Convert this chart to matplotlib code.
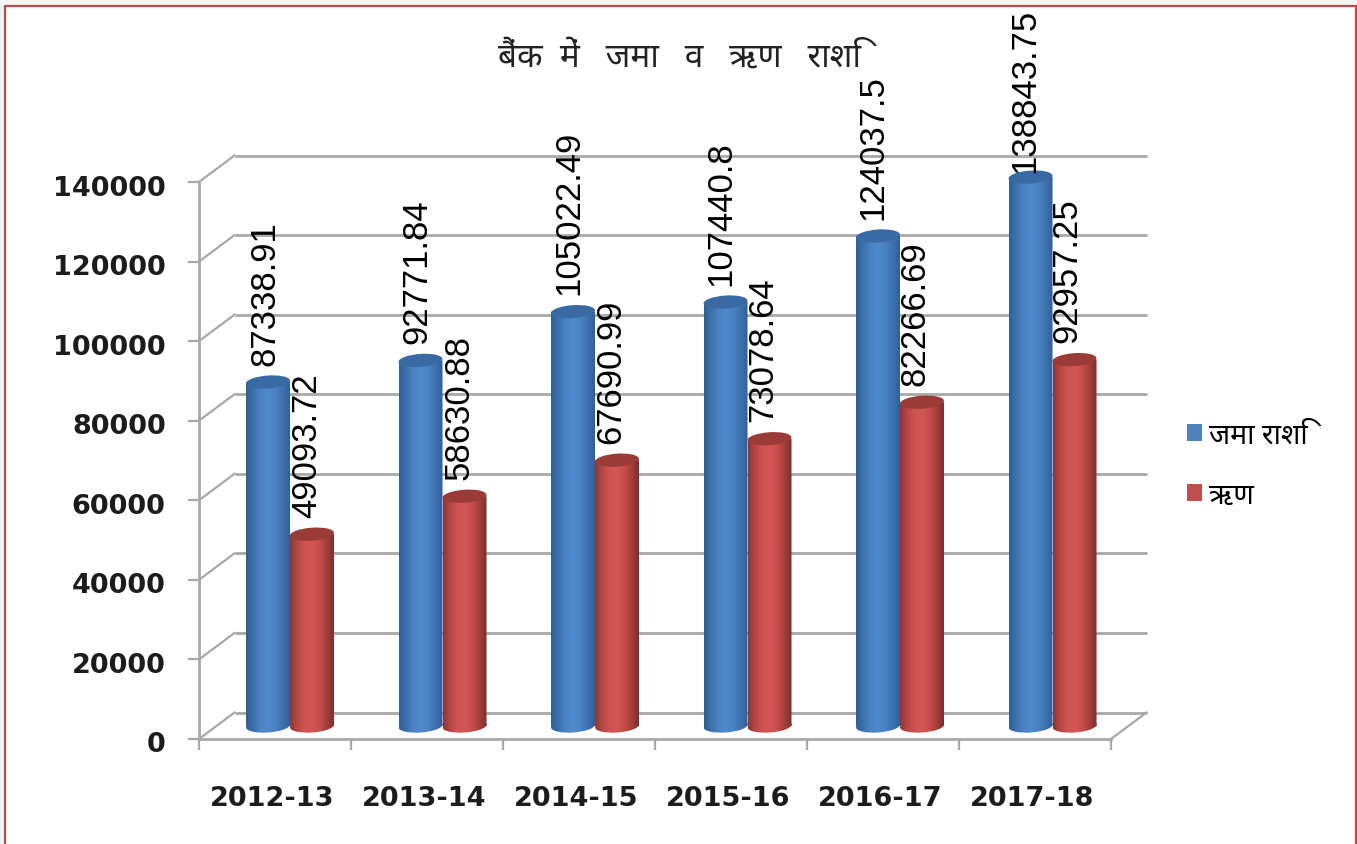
import numpy as np
import matplotlib
matplotlib.use("Agg")
import matplotlib.pyplot as plt
from matplotlib.colors import LinearSegmentedColormap
from matplotlib.patches import Rectangle, Ellipse, Patch
from matplotlib.path import Path
from matplotlib.transforms import Affine2D, IdentityTransform, ScaledTranslation

# ---------- data ----------
title = "बैंक  में   जमा   व   ऋण   राशि"
categories = ["2012-13", "2013-14", "2014-15", "2015-16", "2016-17", "2017-18"]
deposit_name = "जमा राशि"
loan_name = "ऋण"
deposits = [87338.91, 92771.84, 105022.49, 107440.8, 124037.5, 138843.75]
loans = [49093.72, 58630.88, 67690.99, 73078.64, 82266.69, 92957.25]
y_ticks = [0, 20000, 40000, 60000, 80000, 100000, 120000, 140000]

# ---------- styles ----------
W, H = 1357, 845
GRID = "#A8A8A8"
BORDER = "#BE4B48"
blue_cmap = LinearSegmentedColormap.from_list(
    "b", ["#2F5F93", "#3E72AE", "#4A82C4", "#5089CE", "#4A82C4", "#3F73B0", "#31609A"])
red_cmap = LinearSegmentedColormap.from_list(
    "r", ["#8C3735", "#B84845", "#CF5350", "#D25755", "#C74D4A", "#A53F3C", "#7D2F2D"])
BLUE_TOP, RED_TOP = "#3A6AA3", "#9A3B38"
LABEL_FONT = ["Liberation Sans"]
DEV_FONT = ["Noto Sans", "Noto Sans Devanagari", "Lohit Devanagari", "DejaVu Sans"]
TICK_FONT = ["DejaVu Sans"]

fig = plt.figure(figsize=(W / 100, H / 100), dpi=100, facecolor="#F3F6F6")
fig.patches.append(Rectangle((4.5 / W, -0.02), (1356 - 4.5) / W, 1.02 - 6.5 / H,
                             transform=fig.transFigure, facecolor="white",
                             edgecolor=BORDER, linewidth=1.6, figure=fig, zorder=-5))

ax = fig.add_axes([199 / W, (H - 740) / H, (1111 - 199) / W, (740 - 183) / H])
ax.patch.set_alpha(0)
n = len(categories)
xs = np.arange(n)
ax.set_xlim(-0.5, n - 0.5)
ax.set_ylim(0, 140000)

# walls: back gridlines and diagonals
BACK_DX, BACK_DY = 35.5, 26.5
back = ax.transData + Affine2D().translate(BACK_DX, BACK_DY)
for v in y_ticks:
    ax.plot([-0.5, n - 0.5], [v, v], color=GRID, lw=2.0, transform=back,
            clip_on=False, zorder=1, solid_capstyle="butt")
    p = ax.transData.transform((-0.5, v))
    ax.plot([p[0], p[0] + BACK_DX], [p[1], p[1] + BACK_DY], color=GRID, lw=1.6,
            transform=IdentityTransform(), clip_on=False, zorder=1)
p = ax.transData.transform((n - 0.5, 0))
ax.plot([p[0], p[0] + BACK_DX], [p[1], p[1] + BACK_DY], color=GRID, lw=1.6,
        transform=IdentityTransform(), clip_on=False, zorder=1)

for side in ("top", "right"):
    ax.spines[side].set_visible(False)
for side in ("left", "bottom"):
    ax.spines[side].set_color(GRID)
    ax.spines[side].set_linewidth(2.0)
    ax.spines[side].set_zorder(1)

ax.set_yticks(y_ticks)
ax.set_yticklabels([str(v) for v in y_ticks], fontfamily=TICK_FONT,
                   fontweight="bold", fontsize=19.5, color="#1C1C1C")
ax.tick_params(axis="y", length=8, width=1.6, color=GRID, pad=16)
yshift = ScaledTranslation(0, -2.5 / 100, fig.dpi_scale_trans)
for lab in ax.get_yticklabels():
    lab.set_transform(lab.get_transform() + yshift)
ax.set_xticks(np.arange(-0.5, n))
ax.set_xticklabels([])
ax.set_xticks(xs, minor=True)
ax.set_xticklabels(categories, minor=True, fontfamily=TICK_FONT,
                   fontweight="bold", fontsize=19.5, color="#1C1C1C")
ax.tick_params(axis="x", which="major", length=8, width=1.6, color=GRID)
ax.tick_params(axis="x", which="minor", length=0, pad=33)
shift = ScaledTranslation(-3 / 100, 0, fig.dpi_scale_trans)
for lab in ax.get_xticklabels(minor=True):
    lab.set_transform(lab.get_transform() + shift)

# cylinders
BAR_W = 44 / 152
BASE_UP = 13
TOP_UP = 9.5
E_H = 13
TILT = 4


def cylinder(x, value, dx, cmap, top_colour, z):
    trans = ax.transData + Affine2D().translate(dx, 0)
    x0, y0 = trans.transform((x - BAR_W / 2, 0))
    x1, y1 = trans.transform((x + BAR_W / 2, value))
    y0 += BASE_UP
    y1 += TOP_UP
    w = x1 - x0
    grad = np.linspace(0, 1, 64).reshape(1, -1)
    im = ax.imshow(grad, cmap=cmap, aspect="auto",
                   transform=trans + Affine2D().translate(0, TOP_UP), zorder=z,
                   extent=(x - BAR_W / 2, x + BAR_W / 2, -3000, value),
                   interpolation="bilinear")
    base = Ellipse((0, 0), w, E_H, angle=TILT)
    base_path = base.get_patch_transform().transform_path(base.get_path())
    base_path = Affine2D().translate((x0 + x1) / 2, y0).transform_path(base_path)
    rect = Path.unit_rectangle().transformed(Affine2D().scale(w, y1 - y0).translate(x0, y0))
    im.set_clip_box(fig.bbox)
    im.set_clip_path(Path.make_compound_path(rect, base_path), IdentityTransform())
    cap = Ellipse((0, 0), w, E_H, angle=TILT, facecolor=top_colour, edgecolor="none",
                  transform=Affine2D().translate((x0 + x1) / 2, y1),
                  zorder=z + 0.1, clip_on=False)
    ax.add_artist(cap)


for i in range(n):
    cylinder(xs[i], deposits[i], -7 + 0.5 * i, blue_cmap, BLUE_TOP, 3 + i)
    cylinder(xs[i], loans[i], 37 + 0.5 * i, red_cmap, RED_TOP, 3.5 + i)

ax.set_xlim(-0.5, n - 0.5)
ax.set_ylim(0, 140000)

# value labels (px offsets converted to points)
LABEL_SIZE = 25
PT = 0.72
for i in range(n):
    up = 27 if deposits[i] < 130000 else 15
    ax.annotate(str(deposits[i]), (xs[i], deposits[i]), xytext=(-10.5 * PT, up * PT),
                textcoords="offset points", rotation=90, ha="center", va="bottom",
                fontfamily=LABEL_FONT, fontsize=LABEL_SIZE, color="black",
                zorder=20, annotation_clip=False)
    ax.annotate(str(loans[i]), (xs[i], loans[i]), xytext=(32 * PT, 27 * PT),
                textcoords="offset points", rotation=90, ha="center", va="bottom",
                fontfamily=LABEL_FONT, fontsize=LABEL_SIZE, color="black",
                zorder=20, annotation_clip=False)

fig.text(680 / W, 1 - 58 / H, title, ha="center", va="center", fontsize=24,
         family=DEV_FONT, color="#222222")

handles = [Patch(facecolor="#4F81BD", edgecolor="none", label=deposit_name),
           Patch(facecolor="#C0504D", edgecolor="none", label=loan_name)]
fig.legend(handles=handles, loc="center left", bbox_to_anchor=(1161 / W, 1 - 466 / H),
           frameon=False, prop={"family": DEV_FONT, "size": 20.5}, handlelength=0.55,
           handleheight=0.55, handletextpad=0.25, labelspacing=1.1)

fig.savefig("out.png", dpi=100, facecolor=fig.get_facecolor())
